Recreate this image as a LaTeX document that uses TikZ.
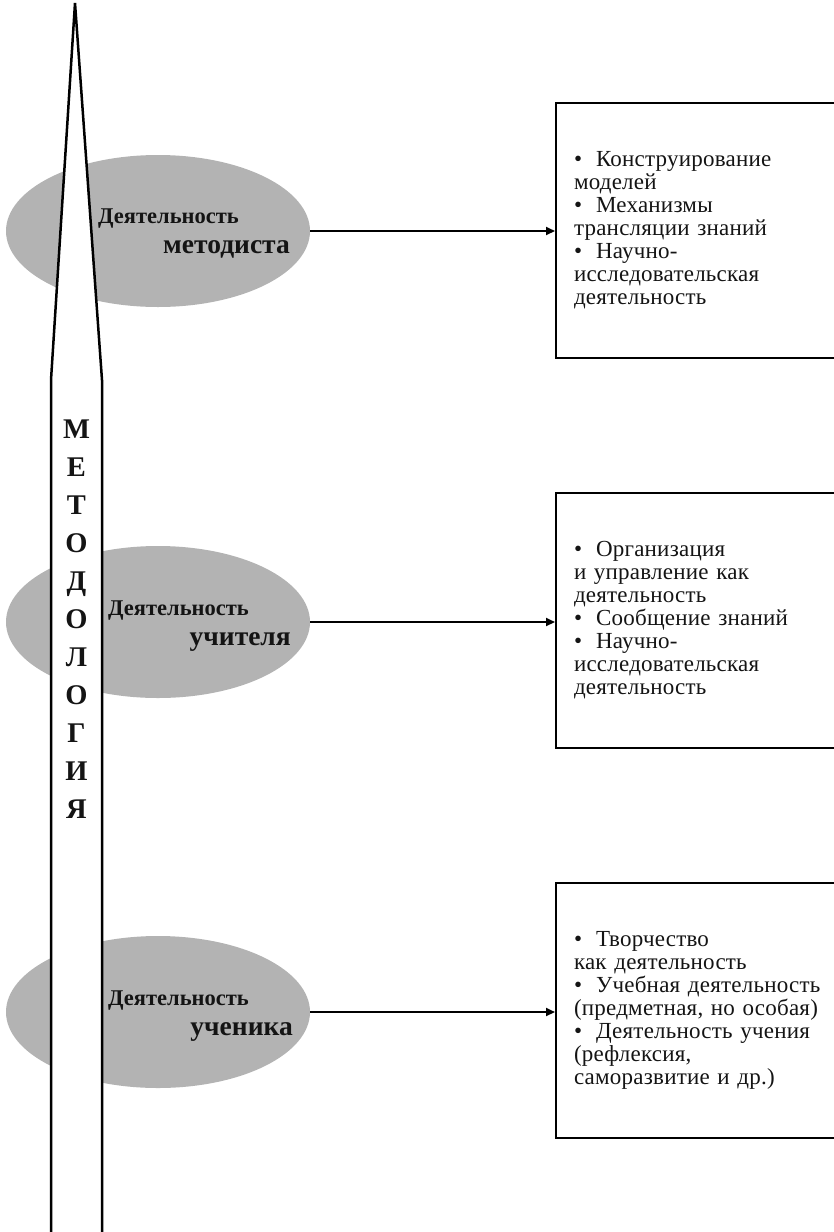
\documentclass[tikz,border=0pt]{standalone}
\usepackage{fontspec}
\setmainfont{Liberation Serif}
\newfontfamily\boxfont{Liberation Serif}[LetterSpace=1]
\usetikzlibrary{shapes.geometric,arrows.meta}
\definecolor{ovalgray}{RGB}{179,179,179}
\definecolor{ink}{RGB}{20,20,20}
\newcommand{\blt}{\textbullet\hspace{14pt}}

\begin{document}
\begin{tikzpicture}[x=1pt,y=-1pt,
  oval/.style={ellipse, fill=ovalgray, minimum width=304pt, minimum height=152pt, inner sep=0pt},
  infobox/.style={draw, line width=2pt, rectangle, anchor=north west,
    minimum height=255pt, text width=270pt, inner xsep=18pt, align=left,
    text=ink, font=\boxfont\fontsize{23}{23}\selectfont},
  arrowline/.style={line width=2pt, -{Triangle[length=9pt,width=8pt]}},
  smallword/.style={font=\bfseries\fontsize{22.5}{22.5}\selectfont, anchor=base west, inner sep=0pt, text=ink},
  bigword/.style={font=\bfseries\fontsize{27.5}{27.5}\selectfont, anchor=base east, inner sep=0pt, text=ink},
  letter/.style={font=\bfseries\fontsize{28.5}{28.5}\selectfont, anchor=base, inner sep=0pt, text=ink},
  spire/.style={fill=white, draw=black, line width=2.5pt}
]
\useasboundingbox (0,0) rectangle (834,1232);
\clip (0,0) rectangle (834,1232);

% grey ovals for the three kinds of activity
\node[oval] (e1) at (158,231) {};
\node[oval] (e2) at (158,622) {};
\node[oval] (e3) at (158,1012) {};

% the spire of methodology, drawn over the ovals
\path[spire] (51,1245) -- (51,380) -- (75,3) -- (102,380) -- (102,1245);

\foreach \ch [count=\i from 0] in {М,Е,Т,О,Д,О,Л,О,Г,И,Я}
  \node[letter] (m\i) at (76.5,438+38*\i) {\ch};

% oval captions
\node[smallword] (w1a) at (98,223) {Деятельность};
\node[bigword]   (w1b) at (290,253) {методиста};
\node[smallword] (w2a) at (108,615) {Деятельность};
\node[bigword]   (w2b) at (291,645) {учителя};
\node[smallword] (w3a) at (108,1005) {Деятельность};
\node[bigword]   (w3b) at (293,1035) {ученика};

% content boxes
\node[infobox] (b1) at (555,102) {\blt Конструирование\\моделей\\\blt Механизмы\\трансляции знаний\\\blt Научно-\\исследовательская\\деятельность};
\node[infobox] (b2) at (555,492) {\blt Организация\\и управление как\\деятельность\\\blt Сообщение знаний\\\blt Научно-\\исследовательская\\деятельность};
\node[infobox] (b3) at (555,882) {\blt Творчество\\как деятельность\\\blt Учебная деятельность\\(предметная, но особая)\\\blt Деятельность учения\\(рефлексия,\\саморазвитие и др.)};

% connectors
\draw[arrowline] (e1.east) -- (e1.east -| b1.west);
\draw[arrowline] (e2.east) -- (e2.east -| b2.west);
\draw[arrowline] (e3.east) -- (e3.east -| b3.west);
\end{tikzpicture}
\end{document}
